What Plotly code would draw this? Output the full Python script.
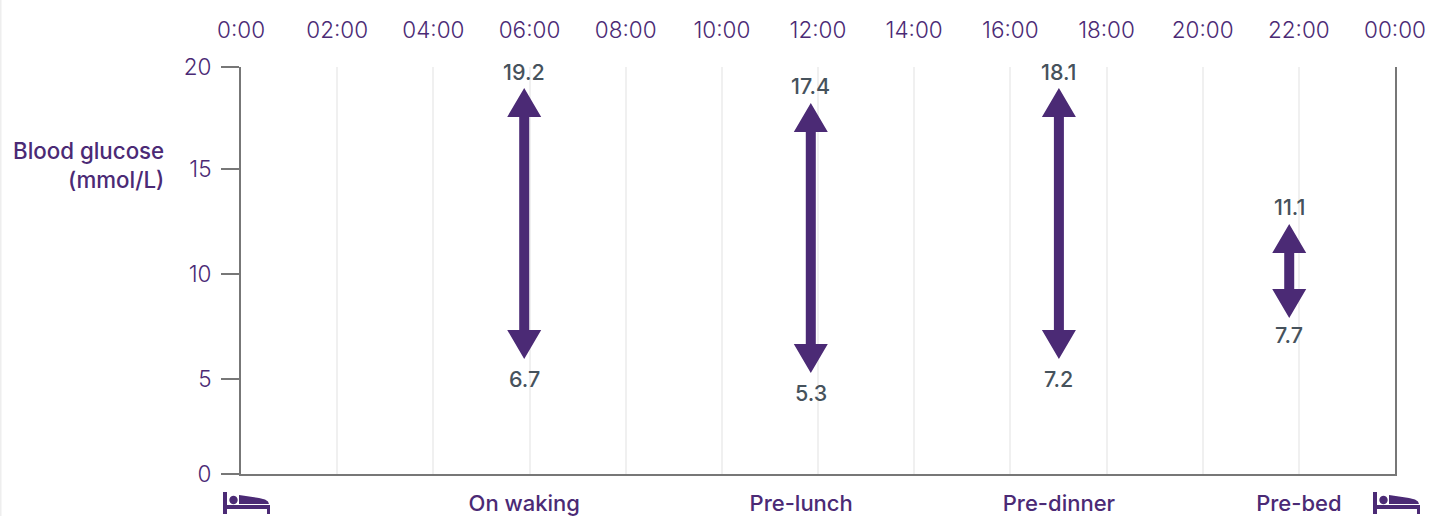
import math
import plotly.graph_objects as go

hours = list(range(0, 25, 2))
hour_labels = ["0:00", "02:00", "04:00", "06:00", "08:00", "10:00", "12:00",
               "14:00", "16:00", "18:00", "20:00", "22:00", "00:00"]
y_tick_labels = ["0", "5", "10", "15", "20"]
y_tick_values = [0, 4.67, 9.83, 14.99, 20]
periods = ["On waking", "Pre-lunch", "Pre-dinner", "Pre-bed"]
period_label_hours = [5.89, 11.65, 17.01, 22.0]
arrow_hours = [5.89, 11.85, 17.01, 21.8]
high_labels = ["19.2", "17.4", "18.1", "11.1"]
low_labels = ["6.7", "5.3", "7.2", "7.7"]
arrow_top = [18.97, 18.23, 18.97, 12.28]
arrow_bottom = [5.65, 4.96, 5.65, 7.67]

PURPLE = "#4b2a75"
SLATE = "#46525c"
AXIS = "#777777"
FONT = "Inter"
W, H = 1430, 516
L, R, T, B = 241, 35, 67, 42
PW, PH = W - L - R, H - T - B
px_per_hour = PW / 24
px_per_unit = PH / 20
HEAD_HALF = 17 / px_per_hour
SHAFT_HALF = 5 / px_per_hour
HEAD_H = 29 / px_per_unit

fig = go.Figure()

for x, top, bot in zip(arrow_hours, arrow_top, arrow_bottom):
    xs = [x, x + HEAD_HALF, x + SHAFT_HALF, x + SHAFT_HALF, x + HEAD_HALF, x,
          x - HEAD_HALF, x - SHAFT_HALF, x - SHAFT_HALF, x - HEAD_HALF, x]
    ys = [top, top - HEAD_H, top - HEAD_H, bot + HEAD_H, bot + HEAD_H, bot,
          bot + HEAD_H, bot + HEAD_H, top - HEAD_H, top - HEAD_H, top]
    fig.add_trace(go.Scatter(x=xs, y=ys, mode="lines", fill="toself",
                             fillcolor=PURPLE, line=dict(width=0, color=PURPLE),
                             hoverinfo="skip", showlegend=False, cliponaxis=False))

fig.add_trace(go.Scatter(x=period_label_hours, y=[0] * 4, xaxis="x2", mode="markers",
                         marker=dict(opacity=0), hoverinfo="skip", showlegend=False))

label_font = dict(family=FONT, size=21.5, color=SLATE, weight=500)
annotations = []
up_shift = [16, 17, 16, 17]
down_shift = [20, 20, 20, 17]
for i, x in enumerate(arrow_hours):
    annotations.append(dict(x=x, y=arrow_top[i], text=high_labels[i], yshift=up_shift[i],
                            xanchor="center", yanchor="middle", showarrow=False, font=label_font))
    annotations.append(dict(x=x, y=arrow_bottom[i], text=low_labels[i], yshift=-down_shift[i],
                            xanchor="center", yanchor="middle", showarrow=False, font=label_font))
annotations.append(dict(text="Blood glucose<br>(mmol/L)", xref="paper", yref="paper",
                        x=-(L - 166) / PW, y=(H - B - 165) / PH,
                        xanchor="right", yanchor="middle", align="right", showarrow=False,
                        font=dict(family=FONT, size=22.3, color=PURPLE, weight=500)))


def px(x, y):
    return f"{(x - L) / PW:.5f},{(H - B - y) / PH:.5f}"


def bed(dx):
    a = 223 + dx
    outline = [(a, 492), (a + 4, 492), (a + 4, 505), (a + 47, 505), (a + 47, 514),
               (a + 44, 514), (a + 44, 509), (a + 4, 509), (a + 4, 514), (a, 514)]
    body = [(a + 16, 495), (a + 36, 498), (a + 42, 499.5), (a + 45, 501.5), (a + 46, 504), (a + 16, 504)]
    head = [(a + 10.5 + 4.2 * math.cos(k * math.pi / 10), 500 + 4.2 * math.sin(k * math.pi / 10))
            for k in range(20)]
    path = ""
    for pts in (outline, body, head):
        path += "M" + " L".join(px(*p) for p in pts) + " Z "
    return dict(type="path", xref="paper", yref="paper", path=path,
                fillcolor=PURPLE, line=dict(width=0), layer="above")


shapes = [bed(0), bed(1150)]
shapes.append(dict(type="line", xref="paper", yref="paper", x0=-L / PW, x1=-L / PW,
                   y0=-B / PH, y1=1 + T / PH,
                   line=dict(color="#eeeeee", width=3), layer="below"))

fig.update_layout(
    width=W, height=H, margin=dict(l=L, r=R, t=T, b=B, pad=0, autoexpand=False),
    paper_bgcolor="white", plot_bgcolor="white", showlegend=False,
    font=dict(family=FONT, color=PURPLE, size=20),
    shapes=shapes, annotations=annotations,
    xaxis=dict(range=[0, 24], side="top", tickvals=hours, ticktext=hour_labels,
               ticks="", showgrid=True, gridcolor="#f0f0f0", gridwidth=2,
               showline=False, zeroline=False, ticklabelstandoff=24, automargin=False,
               tickfont=dict(family=FONT, size=22.5, color=PURPLE, weight=350)),
    xaxis2=dict(range=[0, 24], side="bottom", overlaying="x", anchor="y",
                tickvals=period_label_hours, ticktext=periods, ticks="",
                showgrid=False, zeroline=False, showline=True, linecolor=AXIS,
                linewidth=2, ticklabelstandoff=9, automargin=False,
                tickfont=dict(family=FONT, size=22, color=PURPLE, weight=500)),
    yaxis=dict(range=[0, 20], tickvals=y_tick_values, ticktext=y_tick_labels,
               ticks="outside", ticklen=18,
               tickwidth=2, tickcolor=AXIS, showgrid=False, zeroline=False,
               showline=True, linecolor=AXIS, linewidth=2, mirror=True,
               ticklabelstandoff=5, automargin=False,
               tickfont=dict(family=FONT, size=22.5, color=PURPLE, weight=350)),
)

fig.write_html("out.html", config=dict(displayModeBar=False),
               post_script="document.body.style.margin='0';document.body.style.overflow='hidden';")
